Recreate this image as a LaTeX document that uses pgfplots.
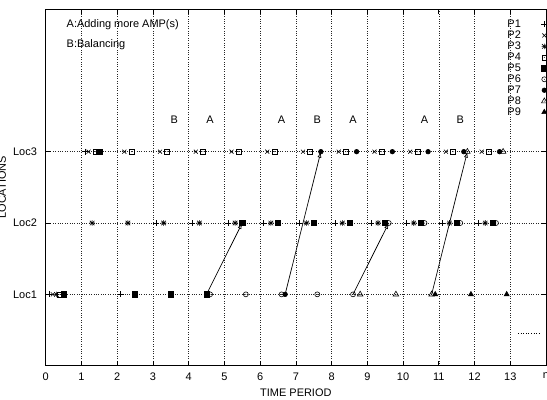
\documentclass[border=0pt]{standalone}
\usepackage{fontspec}
\setmainfont{Liberation Sans}
\usepackage{pgfplots}
\pgfplotsset{compat=1.18}
\usetikzlibrary{arrows.meta}

\pgfdeclareplotmark{gpstar}{%
 \pgfpathmoveto{\pgfqpoint{-\pgfplotmarksize}{0pt}}\pgfpathlineto{\pgfqpoint{\pgfplotmarksize}{0pt}}%
 \pgfpathmoveto{\pgfqpoint{0pt}{-\pgfplotmarksize}}\pgfpathlineto{\pgfqpoint{0pt}{\pgfplotmarksize}}%
 \pgfpathmoveto{\pgfqpoint{-0.8\pgfplotmarksize}{-0.8\pgfplotmarksize}}\pgfpathlineto{\pgfqpoint{0.8\pgfplotmarksize}{0.8\pgfplotmarksize}}%
 \pgfpathmoveto{\pgfqpoint{-0.8\pgfplotmarksize}{0.8\pgfplotmarksize}}\pgfpathlineto{\pgfqpoint{0.8\pgfplotmarksize}{-0.8\pgfplotmarksize}}%
 \pgfusepathqstroke}
\pgfdeclareplotmark{gpbox}{%
 \pgfpathrectangle{\pgfqpoint{-\pgfplotmarksize}{-\pgfplotmarksize}}{\pgfqpoint{2\pgfplotmarksize}{2\pgfplotmarksize}}%
 \pgfusepathqstroke
 \pgfpathcircle{\pgfpointorigin}{0.5pt}\pgfusepathqfill}
\pgfdeclareplotmark{gpcircle}{%
 \pgfpathcircle{\pgfpointorigin}{\pgfplotmarksize}\pgfusepathqstroke
 \pgfpathcircle{\pgfpointorigin}{0.5pt}\pgfusepathqfill}
\pgfdeclareplotmark{gptri}{%
 \pgfpathmoveto{\pgfqpoint{0pt}{1.15\pgfplotmarksize}}%
 \pgfpathlineto{\pgfqpoint{-\pgfplotmarksize}{-0.6\pgfplotmarksize}}%
 \pgfpathlineto{\pgfqpoint{\pgfplotmarksize}{-0.6\pgfplotmarksize}}%
 \pgfpathclose\pgfusepathqstroke
 \pgfpathcircle{\pgfpointorigin}{0.5pt}\pgfusepathqfill}
\pgfdeclareplotmark{gptrif}{%
 \pgfpathmoveto{\pgfqpoint{0pt}{1.15\pgfplotmarksize}}%
 \pgfpathlineto{\pgfqpoint{-\pgfplotmarksize}{-0.6\pgfplotmarksize}}%
 \pgfpathlineto{\pgfqpoint{\pgfplotmarksize}{-0.6\pgfplotmarksize}}%
 \pgfpathclose\pgfusepathqfillstroke}

\begin{document}
\begin{tikzpicture}
\begin{axis}[
  at={(0,0)}, anchor=south west,
  scale only axis, width=500.3bp, height=356.7bp,
  xmin=0, xmax=14, ymin=0, ymax=5,
  xtick={0,...,14},
  xticklabels={0,1,2,3,4,5,6,7,8,9,10,11,12,13,n},
  ytick={1,2,3}, yticklabels={Loc1,Loc2,Loc3},
  grid=major, grid style={dotted, black!85, line width=0.5pt},
  axis line style={line width=0.8pt},
  major tick length=5bp, tick style={black, line width=0.6pt},
  font=\fontsize{11}{13}\selectfont,
  ticklabel style={font=\fontsize{11}{13}\selectfont},
  /pgf/number format/assume math mode=true,
  xticklabel style={yshift=-3.3bp},
  yticklabel style={xshift=-5.3bp},
  xlabel={TIME PERIOD}, ylabel={LOCATIONS},
  every axis x label/.style={at={(axis description cs:0.5,-0.0765)}, anchor=center},
  every axis y label/.style={at={(axis description cs:-0.0794,0.5)}, rotate=90, anchor=base},
  legend plot pos=right,
  legend cell align=right,
  legend style={draw=none, fill=none, at={(axis description cs:1,1)}, anchor=north east,
    xshift=1.5bp, yshift=-9.8bp, inner sep=0pt, row sep=0pt, column sep=19.5pt,
    font=\fontsize{11}{11}\selectfont,
    nodes={inner sep=1pt, text height=8pt, text depth=1pt}},
  every axis plot/.append style={only marks, black, line width=0.6pt, mark options={solid, fill=black}},
]
\addplot[mark=+, mark size=3bp] coordinates {(0.1,1) (1.1,3) (2.1,1) (3.1,2) (4.1,2) (5.1,2) (6.1,2) (7.1,2) (8.1,2) (9.1,2) (10.1,2) (11.1,2) (12.1,2)};
\addlegendentry{P1}
\addplot[mark=x, mark size=2.8bp] coordinates {(0.2,1) (1.2,3) (2.2,3) (3.2,3) (4.2,3) (5.2,3) (6.2,3) (7.2,3) (8.2,3) (9.2,3) (10.2,3) (11.2,3) (12.2,3)};
\addlegendentry{P2}
\addplot[mark=gpstar, mark size=2.8bp] coordinates {(0.3,1) (1.3,2) (2.3,2) (3.3,2) (4.3,2) (5.3,2) (6.3,2) (7.3,2) (8.3,2) (9.3,2) (10.3,2) (11.3,2) (12.3,2)};
\addlegendentry{P3}
\addplot[mark=gpbox, mark size=2.5bp] coordinates {(0.4,1) (1.4,3) (2.4,3) (3.4,3) (4.4,3) (5.4,3) (6.4,3) (7.4,3) (8.4,3) (9.4,3) (10.4,3) (11.4,3) (12.4,3)};
\addlegendentry{P4}
\addplot[mark=square*, mark size=2.6bp] coordinates {(0.5,1) (1.5,3) (2.5,1) (3.5,1) (4.5,1) (5.5,2) (6.5,2) (7.5,2) (8.5,2) (9.5,2) (10.5,2) (11.5,2) (12.5,2)};
\addlegendentry{P5}
\addplot[mark=gpcircle, mark size=2.5bp] coordinates {(4.6,1) (5.6,1) (6.6,1) (7.6,1) (8.6,1) (9.6,2) (10.6,2) (11.6,2) (12.6,2)};
\addlegendentry{P6}
\addplot[mark=*, mark size=2.3bp] coordinates {(6.7,1) (7.7,3) (8.7,3) (9.7,3) (10.7,3) (11.7,3) (12.7,3)};
\addlegendentry{P7}
\addplot[mark=gptri, mark size=2.8bp] coordinates {(8.8,1) (9.8,1) (10.8,1) (11.8,3) (12.8,3)};
\addlegendentry{P8}
\addplot[mark=gptrif, mark size=2.5bp] coordinates {(10.9,1) (11.9,1) (12.9,1)};
\addlegendentry{P9}

% transfer arrows
\addplot[forget plot, sharp plot, no marks, black, line width=0.7pt, -{Latex[open, length=6pt, width=4pt]}] coordinates {(4.5,1) (5.5,2)};
\addplot[forget plot, sharp plot, no marks, black, line width=0.7pt, -{Latex[open, length=6pt, width=4pt]}] coordinates {(6.7,1) (7.7,3)};
\addplot[forget plot, sharp plot, no marks, black, line width=0.7pt, -{Latex[open, length=6pt, width=4pt]}] coordinates {(8.6,1) (9.6,2)};
\addplot[forget plot, sharp plot, no marks, black, line width=0.7pt, -{Latex[open, length=6pt, width=4pt]}] coordinates {(10.8,1) (11.8,3)};
% key sample
\addplot[forget plot, sharp plot, no marks, black, dotted, line width=0.6pt] coordinates {(13.22,0.46) (13.87,0.46)};

\node[anchor=west] at (axis cs:0.49,4.78) {A:Adding more AMP(s)};
\node[anchor=west] at (axis cs:0.49,4.50) {B:Balancing};
\node at (axis cs:3.6,3.45) {B};
\node at (axis cs:4.6,3.45) {A};
\node at (axis cs:6.6,3.45) {A};
\node at (axis cs:7.6,3.45) {B};
\node at (axis cs:8.6,3.45) {A};
\node at (axis cs:10.6,3.45) {A};
\node at (axis cs:11.6,3.45) {B};
\end{axis}
\pgfresetboundingbox
\path (-45.7bp,-34.3bp) rectangle (501.3bp,365.7bp);
\end{tikzpicture}
\end{document}
